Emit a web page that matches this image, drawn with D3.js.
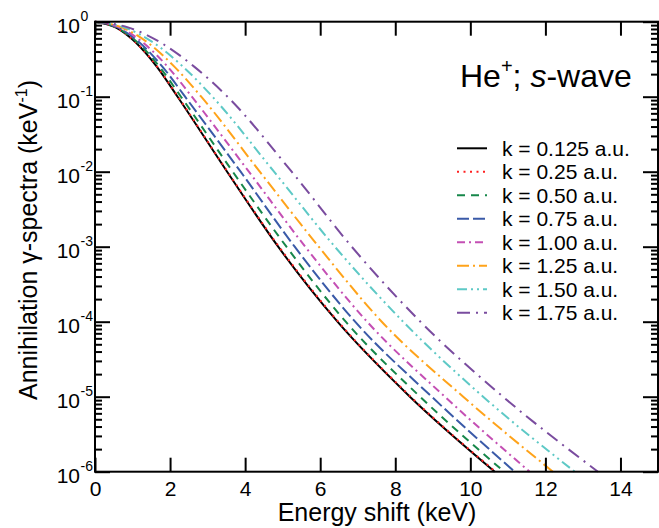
<!DOCTYPE html>
<html>
<head>
<meta charset="utf-8">
<script src="https://cdn.jsdelivr.net/npm/d3@7"></script>
<style>
  html, body { margin: 0; padding: 0; background: #fff; }
  svg { display: block; font-family: "Liberation Sans", Arial, Helvetica, sans-serif; }
</style>
</head>
<body>
<svg id="chart" width="659" height="528"></svg>
<script>
// ---------------- data ----------------
// Spectrum levels (keV^-1) and the energy shift (keV) at which each curve reaches them
const levels = [1, 0.84, 0.52, 0.25, 1e-1, 1e-2, 1e-3, 1e-4, 1e-5, 1e-6];
const eK0125 = [0, 0.55, 1.10, 1.65, 2.20, 3.52, 4.88, 6.46, 8.39, 10.65];
const eK025  = [0, 0.55, 1.10, 1.66, 2.21, 3.53, 4.90, 6.48, 8.41, 10.67];
const eK050  = [0, 0.57, 1.15, 1.72, 2.29, 3.67, 5.10, 6.68, 8.66, 10.90];
const eK075  = [0, 0.60, 1.20, 1.80, 2.40, 3.88, 5.32, 6.93, 8.97, 11.18];
const eK100  = [0, 0.65, 1.29, 1.94, 2.58, 4.10, 5.60, 7.25, 9.32, 11.58];
const eK125  = [0, 0.71, 1.42, 2.12, 2.83, 4.39, 5.96, 7.64, 9.81, 12.20];
const eK150  = [0, 0.78, 1.57, 2.35, 3.13, 4.77, 6.39, 8.21, 10.34, 12.78];
const eK175  = [0, 0.88, 1.77, 2.65, 3.53, 5.24, 6.84, 8.67, 10.87, 13.40];

const seriesNames = ["k = 0.125 a.u.", "k = 0.25 a.u.", "k = 0.50 a.u.", "k = 0.75 a.u.",
                     "k = 1.00 a.u.", "k = 1.25 a.u.", "k = 1.50 a.u.", "k = 1.75 a.u."];
const seriesEnergies = [eK0125, eK025, eK050, eK075, eK100, eK125, eK150, eK175];
const seriesColors = ["#000000", "#ff2020", "#16874a", "#3a5aa8", "#c44fb4", "#ffa31a", "#5ec9c6", "#7a4c9f"];
const seriesDash = ["none", "2,4.5", "8,6", "12,4", "8,4,2,4", "12,4,2,4", "10,4,2,4,2,4", "13,6,2,6"];

const xTicks = [0, 2, 4, 6, 8, 10, 12, 14];
const yDecades = [1, 1e-1, 1e-2, 1e-3, 1e-4, 1e-5, 1e-6];
const yExpLabels = ["0", "-1", "-2", "-3", "-4", "-5", "-6"];

// ---------------- layout ----------------
const svg = d3.select("#chart");
const L = 95, R = 658, T = 21.7, B = 471.7;
const x = d3.scaleLinear().domain([0, 15]).range([L, R]);
const y = d3.scaleLog().domain([1e-6, 1]).range([B, T]);

const yMinor = [];
yDecades.slice(0, -1).forEach(d => { for (let m = 2; m <= 9; m++) yMinor.push(d / 10 * m); });

// ---------------- curves ----------------
const line = d3.line().x(d => x(d[0])).y(d => y(d[1])).curve(d3.curveMonotoneX);
const gCurves = svg.append("g");
seriesEnergies.forEach((es, i) => {
  const pts = es.map((e, j) => [e, levels[j]]);
  gCurves.append("path")
    .attr("d", line(pts))
    .attr("fill", "none")
    .attr("stroke", seriesColors[i])
    .attr("stroke-width", 2)
    .attr("stroke-dasharray", seriesDash[i]);
});

// ---------------- axes ----------------
function styleAxis(g) {
  g.select(".domain").remove();
  g.selectAll(".tick line").attr("stroke", "#000").attr("stroke-width", 2);
}
svg.append("g").attr("transform", `translate(0,${B})`)
  .call(d3.axisBottom(x).tickValues(xTicks).tickSizeInner(-14).tickSizeOuter(0).tickPadding(9).tickFormat(d3.format("d")))
  .call(styleAxis)
  .call(g => g.selectAll("text").attr("font-size", 21).attr("fill", "#000").attr("font-family", "Liberation Sans, Arial, sans-serif"));
svg.append("g").attr("transform", `translate(0,${T})`)
  .call(d3.axisTop(x).tickValues(xTicks).tickSizeInner(-14).tickSizeOuter(0).tickFormat(""))
  .call(styleAxis);
svg.append("g").attr("transform", `translate(${L},0)`)
  .call(d3.axisLeft(y).tickValues(yDecades).tickSizeInner(-15).tickSizeOuter(0).tickFormat(""))
  .call(styleAxis);
svg.append("g").attr("transform", `translate(${L},0)`)
  .call(d3.axisLeft(y).tickValues(yMinor).tickSizeInner(-7).tickSizeOuter(0).tickFormat(""))
  .call(styleAxis);
svg.append("g").attr("transform", `translate(${R},0)`)
  .call(d3.axisRight(y).tickValues(yDecades).tickSizeInner(-15).tickSizeOuter(0).tickFormat(""))
  .call(styleAxis);
svg.append("g").attr("transform", `translate(${R},0)`)
  .call(d3.axisRight(y).tickValues(yMinor).tickSizeInner(-7).tickSizeOuter(0).tickFormat(""))
  .call(styleAxis);

// y tick labels 10^n
const gYL = svg.append("g").attr("font-size", 21).attr("fill", "#000");
yDecades.forEach((d, i) => {
  gYL.append("text").attr("x", 80).attr("y", y(d) + 11).attr("text-anchor", "end").text("10");
  gYL.append("text").attr("x", 80.5).attr("y", y(d) - 0.5).attr("font-size", 14).text(yExpLabels[i]);
});

// frame
svg.append("rect").attr("x", L).attr("y", T).attr("width", R - L).attr("height", B - T)
  .attr("fill", "none").attr("stroke", "#000").attr("stroke-width", 2);

// axis titles
svg.append("text").attr("x", 377).attr("y", 521).attr("text-anchor", "middle")
  .attr("font-size", 25).attr("fill", "#000").text("Energy shift (keV)");
const yt = svg.append("text").attr("transform", "translate(37,240) rotate(-90)")
  .attr("text-anchor", "middle").attr("font-size", 25).attr("fill", "#000");
yt.append("tspan").text("Annihilation γ-spectra (keV");
yt.append("tspan").attr("font-size", 16).attr("dy", -10).text("-1");
yt.append("tspan").attr("dy", 10).text(")");

// title
const tt = svg.append("text").attr("x", 460).attr("y", 86.7).attr("font-size", 32).attr("fill", "#000");
tt.append("tspan").text("He");
tt.append("tspan").attr("font-size", 20).attr("dy", -14).text("+");
tt.append("tspan").attr("dy", 14).text("; ");
tt.append("tspan").attr("font-style", "italic").text("s");
tt.append("tspan").text("-wave");

// legend
const gLeg = svg.append("g");
seriesNames.forEach((name, i) => {
  const ly = 148.3 + i * 23.5;
  gLeg.append("line").attr("x1", 457).attr("x2", 487).attr("y1", ly).attr("y2", ly)
    .attr("stroke", seriesColors[i]).attr("stroke-width", 2).attr("stroke-dasharray", seriesDash[i]);
  gLeg.append("text").attr("x", 502).attr("y", ly + 7.5).attr("font-size", 21).attr("fill", "#000").text(name);
});
</script>
</body>
</html>
